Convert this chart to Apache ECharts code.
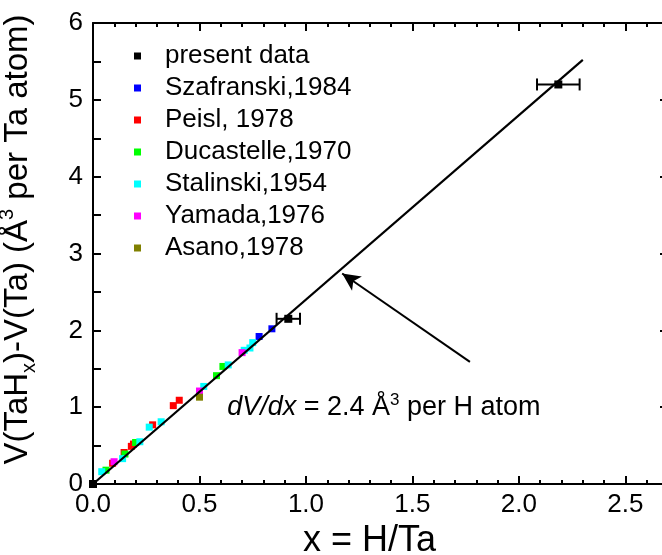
<!DOCTYPE html>
<html><head><meta charset="utf-8">
<script src="https://cdn.jsdelivr.net/npm/echarts@6/dist/echarts.min.js"></script>
<style>html,body{margin:0;padding:0;background:#fff}#c{width:662px;height:555px}</style>
</head><body><div id="c"></div>
<script>
// ---- data ----
const presentData = [[0, 0], [0.917, 2.15], [2.185, 5.2]];
const presentXErr = [0, 0.055, 0.1];
const szafranski = [[0.78, 1.92], [0.84, 2.02]];
const peisl = [[0.092, 0.27], [0.146, 0.41], [0.18, 0.49], [0.19, 0.52], [0.28, 0.77], [0.377, 1.02], [0.405, 1.09]];
const ducastelle = [[0.061, 0.18], [0.15, 0.39], [0.20, 0.54], [0.58, 1.41], [0.61, 1.53]];
const stalinski = [[0.041, 0.16], [0.139, 0.33], [0.22, 0.55], [0.264, 0.74], [0.32, 0.81], [0.52, 1.27], [0.635, 1.55], [0.71, 1.74], [0.737, 1.77], [0.75, 1.84]];
const yamada = [[0.099, 0.29], [0.50, 1.21], [0.70, 1.71]];
const asano = [[0.50, 1.13]];
const fitLine = [[0, 0], [2.3, 5.52]];
const arrowFrom = [1.77, 1.59];
const arrowTo = [1.17, 2.74];
const annotationAt = [0.63, 1.0];
const seriesNames = ['present data', 'Szafranski,1984', 'Peisl, 1978', 'Ducastelle,1970', 'Stalinski,1954', 'Yamada,1976', 'Asano,1978'];
const seriesColors = ['#000000', '#0000ff', '#ff0000', '#00ff00', '#00ffff', '#ff00ff', '#808000'];
const xRange = [0, 2.7];
const yRange = [0, 6];

const FONT = 'Liberation Sans, Arial, sans-serif';
const chart = echarts.init(document.getElementById('c'), null, {renderer: 'canvas'});

function scatter(name, data, color, size) {
  return {
    name: name, type: 'scatter', data: data, symbol: 'rect', symbolSize: size || 7,
    itemStyle: {color: color, opacity: 1}, clip: false, z: 3
  };
}

function xAxisDef(pos, minor, showLabel) {
  return {
    type: 'value', position: pos, min: xRange[0], max: xRange[1],
    interval: minor ? 0.1 : 0.5,
    axisLine: {show: !minor, onZero: false, lineStyle: {color: '#000', width: 2}},
    axisTick: {show: true, inside: true, length: minor ? 4 : 8, lineStyle: {color: '#000', width: 2}},
    axisLabel: {show: showLabel, showMaxLabel: false, formatter: v => v.toFixed(1), color: '#000',
      fontSize: 26, fontFamily: FONT, margin: 8},
    splitLine: {show: false},
    name: showLabel ? 'x = H/Ta' : '', nameLocation: 'middle', nameGap: 37,
    nameTextStyle: {fontSize: 36, fontFamily: FONT, color: '#000', padding: [0, 22, 0, 0]}
  };
}
function yAxisDef(pos, showLabel) {
  return {
    type: 'value', position: pos, min: yRange[0], max: yRange[1], interval: 1,
    axisLine: {show: true, onZero: false, lineStyle: {color: '#000', width: 2}},
    axisTick: {show: true, inside: true, length: 8, lineStyle: {color: '#000', width: 2}},
    minorTick: {show: true, splitNumber: 2, length: showLabel ? 8 : 4, lineStyle: {color: '#000', width: 2}},
    axisLabel: {show: showLabel, color: '#000', fontSize: 26, fontFamily: FONT, margin: 10},
    splitLine: {show: false}, minorSplitLine: {show: false},
    name: showLabel ? '{t|V(TaH}{sub|x}{t|)-V(Ta) (Å}{sup|3}{t| per Ta atom)}' : '',
    nameLocation: 'middle', nameGap: 54, nameRotate: 90,
    nameTextStyle: {
      fontSize: 33, fontFamily: FONT, color: '#000', padding: [0, 0, 0, 28],
      rich: {
        t: {fontSize: 33, fontFamily: FONT, color: '#000'},
        sub: {fontSize: 20, fontFamily: FONT, color: '#000', verticalAlign: 'bottom', padding: [22, 0, 0, 0]},
        sup: {fontSize: 20, fontFamily: FONT, color: '#000', verticalAlign: 'top', padding: [0, 0, 22, 0]}
      }
    }
  };
}

const errData = presentData.map((p, i) => [p[0], p[1], presentXErr[i]]).filter(d => d[2] > 0);

const option = {
  animation: false,
  backgroundColor: '#fff',
  grid: {left: 93, right: -6, top: 23, bottom: 71, containLabel: false, outerBoundsMode: 'none'},
  xAxis: [xAxisDef('bottom', false, true), xAxisDef('bottom', true, false), xAxisDef('top', false, false), xAxisDef('top', true, false)],
  yAxis: [yAxisDef('left', true), yAxisDef('right', false)],
  legend: {
    orient: 'vertical', left: 129, top: 38, icon: 'rect', itemWidth: 7, itemHeight: 7, itemGap: 6,
    data: seriesNames,
    formatter: n => '{p|}' + n,
    textStyle: {fontSize: 26, fontFamily: FONT, color: '#000', rich: {p: {width: 19}}}
  },
  series: [
    scatter(seriesNames[0], presentData, seriesColors[0], 8),
    scatter(seriesNames[1], szafranski, seriesColors[1]),
    scatter(seriesNames[2], peisl, seriesColors[2]),
    scatter(seriesNames[3], ducastelle, seriesColors[3]),
    scatter(seriesNames[4], stalinski, seriesColors[4]),
    scatter(seriesNames[5], yamada, seriesColors[5]),
    scatter(seriesNames[6], asano, seriesColors[6]),
    {
      type: 'custom', data: errData, z: 4, clip: false,
      renderItem: function (params, api) {
        const x = api.value(0), y = api.value(1), e = api.value(2);
        const a = api.coord([x - e, y]), b = api.coord([x + e, y]);
        const st = {stroke: '#000', lineWidth: 2};
        return {type: 'group', children: [
          {type: 'line', shape: {x1: a[0], y1: a[1], x2: b[0], y2: b[1]}, style: st},
          {type: 'line', shape: {x1: a[0], y1: a[1] - 6, x2: a[0], y2: a[1] + 6}, style: st},
          {type: 'line', shape: {x1: b[0], y1: b[1] - 6, x2: b[0], y2: b[1] + 6}, style: st}
        ]};
      }
    },
    {
      type: 'line', data: fitLine, symbol: 'none', z: 5,
      lineStyle: {color: '#000', width: 2.2},
      markLine: {
        silent: true, symbol: ['none', 'arrow'], symbolSize: [13, 18],
        lineStyle: {color: '#000', width: 2, type: 'solid'}, label: {show: false},
        data: [[{coord: arrowFrom}, {coord: arrowTo}]]
      }
    }
  ]
};
chart.setOption(option);

const pos = chart.convertToPixel({xAxisIndex: 0, yAxisIndex: 0}, annotationAt);
chart.setOption({
  graphic: [{
    type: 'text', x: pos[0], y: pos[1],
    style: {
      text: '{i|dV/dx}{n| = 2.4 Å}{s|3}{n| per H atom}',
      verticalAlign: 'middle', align: 'left',
      rich: {
        i: {fontSize: 27, fontFamily: FONT, fontStyle: 'italic', fill: '#000'},
        n: {fontSize: 27, fontFamily: FONT, fill: '#000'},
        s: {fontSize: 17, fontFamily: FONT, fill: '#000', verticalAlign: 'top', padding: [0, 0, 14, 0]}
      }
    }
  }]
});
</script></body></html>
